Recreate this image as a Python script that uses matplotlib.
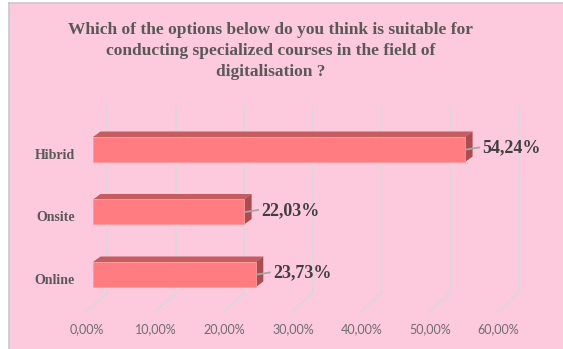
import matplotlib.pyplot as plt
from matplotlib.patches import Polygon, Rectangle
from matplotlib.lines import Line2D

# survey answers, bottom to top
categories = ["Online", "Onsite", "Hibrid"]
shares = [23.73, 22.03, 54.24]
value_labels = ["23,73%", "22,03%", "54,24%"]
ticks = [0, 10, 20, 30, 40, 50, 60]
tick_labels = ["0,00%", "10,00%", "20,00%", "30,00%", "40,00%", "50,00%", "60,00%"]

title = ("Which of the options below do you think is suitable for\n"
         "conducting specialized courses in the field of\n"
         "digitalisation ?")

bg = "#FDC9DC"
front = "#FF7C80"
top_c = "#C45C60"
side_c = "#A84E52"
grid_c = "#D9D9D9"

W, H = 563, 349
fig = plt.figure(figsize=(W / 100, H / 100), dpi=100)
fig.patch.set_facecolor("white")
# chart area with thin grey frame on left/top
fig.patches.append(Rectangle((9 / W, 0), 1 - 9 / W, 1 - 3 / H, transform=fig.transFigure,
                             facecolor=bg, edgecolor="none", zorder=-10))
fig.lines.append(Line2D([8.5 / W, 8.5 / W], [0, 1 - 2.5 / H], transform=fig.transFigure,
                        color="#C8C8C8", lw=1.2, zorder=-9))
fig.lines.append(Line2D([8.5 / W, 1], [1 - 2.5 / H, 1 - 2.5 / H], transform=fig.transFigure,
                        color="#C8C8C8", lw=1.2, zorder=-9))

# plot area (front plane of the bars)
x0, x1 = 93, 504.6
y_top, y_bot = 118.25, 305.75
ax = fig.add_axes([x0 / W, 1 - y_bot / H, (x1 - x0) / W, (y_bot - y_top) / H])
ax.set_xlim(0, 60)
ax.set_ylim(-0.5, 2.5)
ax.set_facecolor("none")
for s in ax.spines.values():
    s.set_visible(False)
ax.set_xticks([])
ax.set_yticks([])

# pixel -> data scale for the 3D offsets
sx = 60 / (x1 - x0)
sy = 3 / (y_bot - y_top)

# back-wall gridlines and floor diagonals
wall_dx = 14 * sx
g_bot = -0.5 + (y_bot - 293) * sy
g_top = -0.5 + (y_bot - 107) * sy
floor_dx, floor_dy = 20 * sx, 18 * sy
for t, lab in zip(ticks, tick_labels):
    ax.plot([t + wall_dx, t + wall_dx], [g_bot, g_top], color=grid_c, lw=1.2,
            clip_on=False, zorder=1)
    ax.plot([t + wall_dx, t + wall_dx - floor_dx], [g_bot, g_bot - floor_dy],
            color=grid_c, lw=1.2, clip_on=False, zorder=1)
    ax.text(t - 6 * sx, -0.5 + (y_bot - 329) * sy, lab, ha="center", va="center",
            fontsize=9, family="Lato", color="#6E6E6E")

# bars with top and side faces
bh = 0.4
bdx, bdy = 7.5 * sx, 5.5 * sy
ax.barh(range(len(categories)), shares, height=bh, color=front,
        edgecolor="#FF9A9C", linewidth=0.6, zorder=3)
for i, v in enumerate(shares):
    lo, hi = i - bh / 2, i + bh / 2
    ax.add_patch(Polygon([(0, hi), (v, hi), (v + bdx, hi + bdy), (bdx, hi + bdy)],
                         closed=True, facecolor=top_c, edgecolor="none", zorder=2,
                         clip_on=False))
    ax.add_patch(Polygon([(v, lo), (v, hi), (v + bdx, hi + bdy), (v + bdx, lo + bdy)],
                         closed=True, facecolor=side_c, edgecolor="none", zorder=2,
                         clip_on=False))
    # leader line and value label
    ax.plot([v + 1 * sx, v + 14 * sx], [i, i + 2 * sy], color="#A6A6A6", lw=1.3,
            clip_on=False, zorder=4)
    ax.text(v + 17 * sx, i + 1.5 * sy, value_labels[i], ha="left", va="center",
            fontsize=13, fontweight="bold", family="Liberation Serif", color="#404040")
    ax.text(-18 * sx, i - 6 * sy, categories[i], ha="right", va="center",
            fontsize=10, fontweight="bold", family="Liberation Serif", color="#595959")

fig.text(270.5 / W, 1 - 51 / H, title, ha="center", va="center", fontsize=12.5,
         fontweight="bold", family="Liberation Serif", color="#595959", linespacing=1.45)

fig.savefig("out.png", dpi=100, facecolor=fig.get_facecolor())
